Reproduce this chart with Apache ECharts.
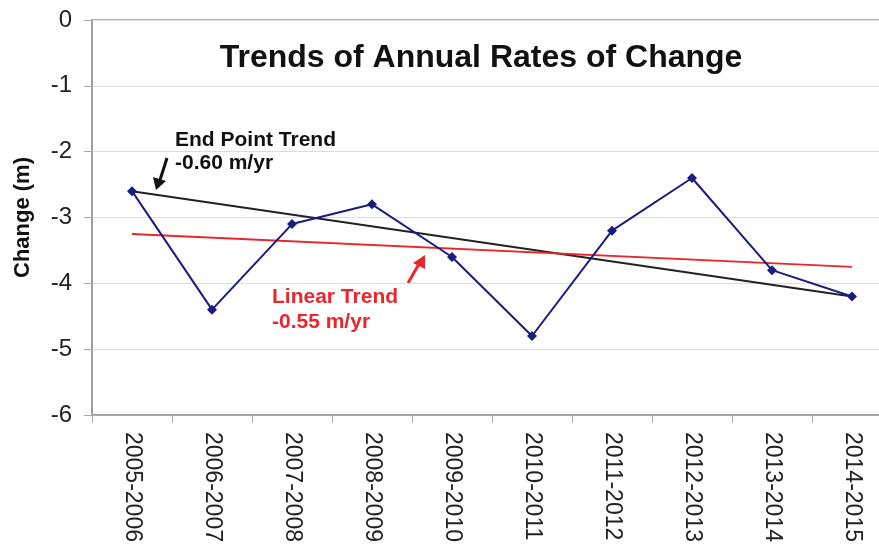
<!DOCTYPE html>
<html>
<head>
<meta charset="utf-8">
<script src="https://cdn.jsdelivr.net/npm/echarts@6/dist/echarts.min.js"></script>
<style>
  html, body { margin: 0; padding: 0; background: #fff; }
  #chart { width: 879px; height: 547px; }
</style>
</head>
<body>
<div id="chart"></div>
<script>
// categories and values
const periods = ['2005-2006', '2006-2007', '2007-2008', '2008-2009', '2009-2010',
                 '2010-2011', '2011-2012', '2012-2013', '2013-2014', '2014-2015'];
const annualChange = [-2.6, -4.4, -3.1, -2.8, -3.6, -4.8, -3.2, -2.4, -3.8, -4.2];
const endPointTrend = [-2.6, null, null, null, null, null, null, null, null, -4.2];
const linearTrend = [-3.25, null, null, null, null, null, null, null, null, -3.75];

const font = 'Liberation Sans, Arial, sans-serif';

const chart = echarts.init(document.getElementById('chart'));

const option = {
    animation: false,
    backgroundColor: '#fff',
    textStyle: { fontFamily: font },
    title: {
        text: 'Trends of Annual Rates of Change',
        left: 476,
        top: 37,
        textAlign: 'center',
        textStyle: { fontSize: 32, fontWeight: 'bold', color: '#111', fontFamily: font }
    },
    grid: {
        left: 92, right: -13, top: 20, bottom: 132,
        outerBoundsMode: 'none', containLabel: false,
        show: true, borderColor: '#999', borderWidth: 1.5
    },
    xAxis: {
        type: 'category',
        data: periods,
        boundaryGap: true,
        axisLine: { onZero: false, lineStyle: { color: '#999', width: 1.5 } },
        axisTick: { show: true, length: 8, lineStyle: { color: '#aaa' } },
        axisLabel: { rotate: -90, fontSize: 23, color: '#222', margin: 17, fontFamily: font }
    },
    yAxis: {
        type: 'value',
        min: -6,
        max: 0,
        interval: 1,
        name: 'Change (m)',
        nameLocation: 'middle',
        nameRotate: 90,
        nameGap: 58,
        nameTextStyle: { fontSize: 22, fontWeight: 'bold', color: '#111', fontFamily: font },
        axisLine: { show: true, lineStyle: { color: '#999', width: 1.5 } },
        axisTick: { show: true, length: 8, lineStyle: { color: '#aaa' } },
        axisLabel: { fontSize: 24, color: '#222', margin: 20, fontFamily: font },
        splitLine: { lineStyle: { color: '#ddd', width: 1 } }
    },
    series: [
        {
            name: 'End Point Trend',
            type: 'line',
            data: endPointTrend,
            connectNulls: true,
            symbol: 'none',
            lineStyle: { color: '#222', width: 2 },
            z: 3
        },
        {
            name: 'Linear Trend',
            type: 'line',
            data: linearTrend,
            connectNulls: true,
            symbol: 'none',
            lineStyle: { color: '#e8262b', width: 2 },
            z: 3
        },
        {
            name: 'Annual Change',
            type: 'line',
            data: annualChange,
            symbol: 'diamond',
            symbolSize: 10,
            itemStyle: { color: '#1c1c7e' },
            lineStyle: { color: '#1c1c7e', width: 2 },
            z: 4
        }
    ],
    graphic: [
        {
            type: 'text', left: 175, top: 129,
            style: { text: 'End Point Trend\n-0.60 m/yr', font: 'bold 21px ' + font, fill: '#111', lineHeight: 23 }
        },
        {
            type: 'text', left: 272, top: 285,
            style: { text: 'Linear Trend\n-0.55 m/yr', font: 'bold 21px ' + font, fill: '#e8262b', lineHeight: 25 }
        },
        // black arrow
        { type: 'line', shape: { x1: 167, y1: 158, x2: 160, y2: 180 }, style: { stroke: '#111', lineWidth: 3 } },
        { type: 'polygon', shape: { points: [[153, 177], [166, 181], [156, 190]] }, style: { fill: '#111' } },
        // red arrow
        { type: 'line', shape: { x1: 408, y1: 283, x2: 419, y2: 264 }, style: { stroke: '#e8262b', lineWidth: 3 } },
        { type: 'polygon', shape: { points: [[413, 263], [425, 269], [425, 255]] }, style: { fill: '#e8262b' } }
    ]
};

chart.setOption(option);
</script>
</body>
</html>
